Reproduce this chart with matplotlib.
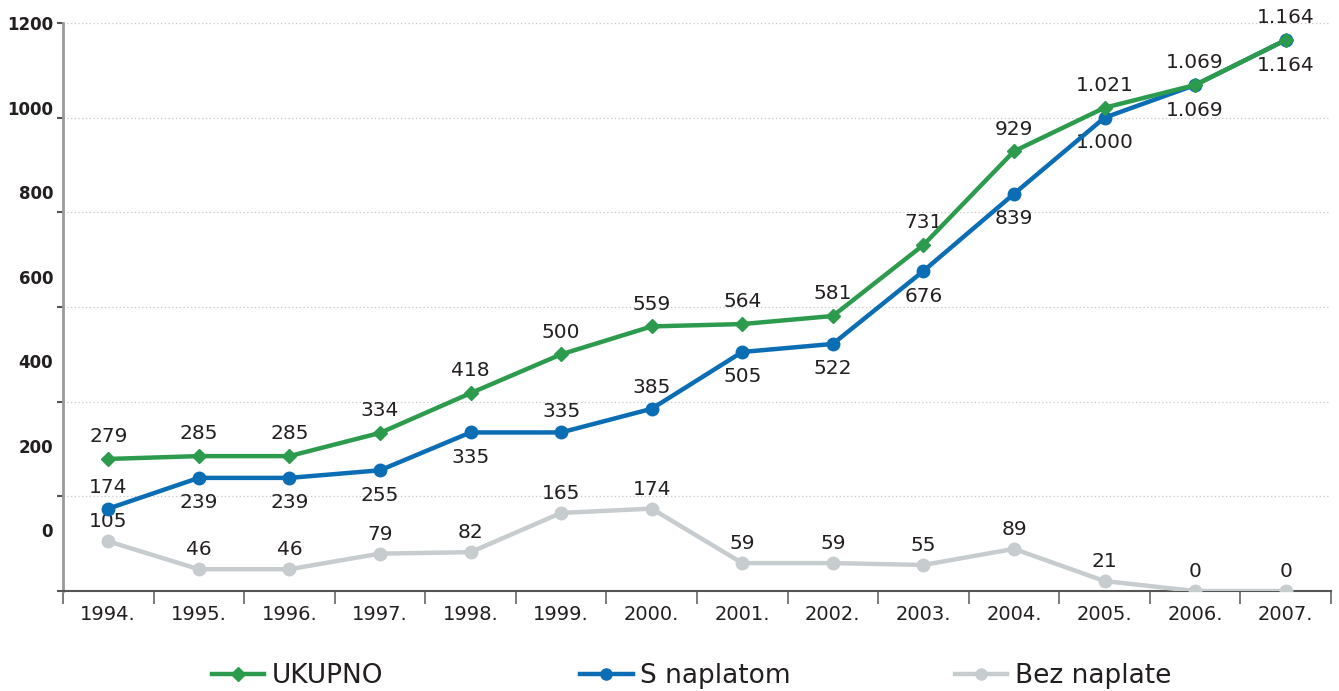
import numpy as np
import matplotlib
matplotlib.use('Agg')
import matplotlib.pyplot as plt
from matplotlib.lines import Line2D

years = ['1994.', '1995.', '1996.', '1997.', '1998.', '1999.', '2000.',
         '2001.', '2002.', '2003.', '2004.', '2005.', '2006.', '2007.']
ukupno = [279, 285, 285, 334, 418, 500, 559, 564, 581, 731, 929, 1021, 1069, 1164]
s_naplatom = [174, 239, 239, 255, 335, 335, 385, 505, 522, 676, 839, 1000, 1069, 1164]
bez_naplate = [105, 46, 46, 79, 82, 165, 174, 59, 59, 55, 89, 21, 0, 0]
# label above (1) or below (-1) the blue points
s_pos = [1, -1, -1, -1, -1, 1, 1, -1, -1, -1, -1, -1, -1, -1]
yticks = [0, 200, 400, 600, 800, 1000, 1200]

green = '#2c9b4e'
blue = '#0b6db3'
grey = '#c7cccf'
txt = '#231f20'

plt.rcParams['font.family'] = ['DejaVu Sans']

def fmt(v):
    return f'{v:,}'.replace(',', '.')

fig = plt.figure(figsize=(13.39, 6.91), dpi=100)
ax = fig.add_axes([0.047, 0.1447, 0.947, 0.822])
x = np.arange(len(years))

ax.plot(x, bez_naplate, color=grey, lw=3.2, marker='o', ms=9, zorder=3)
ax.plot(x, s_naplatom, color=blue, lw=3.2, marker='o', ms=9, zorder=4)
ax.plot(x, ukupno, color=green, lw=3.2, marker='D', ms=7.5, zorder=5)

for i in x:
    ax.annotate(fmt(ukupno[i]), (i, ukupno[i]), xytext=(0, 16), textcoords='offset points',
                ha='center', va='center', fontsize=14.5, color=txt)
    off = 15 if s_pos[i] > 0 else -18
    ax.annotate(fmt(s_naplatom[i]), (i, s_naplatom[i]), xytext=(0, off), textcoords='offset points',
                ha='center', va='center', fontsize=14.5, color=txt)
    ax.annotate(fmt(bez_naplate[i]), (i, bez_naplate[i]), xytext=(0, 14), textcoords='offset points',
                ha='center', va='center', fontsize=14.5, color=txt)

ax.set_xlim(-0.5, len(years) - 0.5)
ax.set_ylim(0, 1200)
ax.set_xticks(x)
ax.set_xticklabels(years, fontsize=14, color=txt)
ax.set_xticks(np.arange(len(years) + 1) - 0.5, minor=True)
ax.tick_params(axis='x', which='major', length=0, pad=10)
ax.tick_params(axis='x', which='minor', length=9, width=1.2, color='#666666', direction='out')
ax.set_yticks(yticks)
ax.tick_params(axis='y', length=4, width=1.5, color='#555555', labelleft=False)
for v in yticks[1:]:
    ax.axhline(v, color='#c8c8c8', lw=0.9, linestyle=(0, (1, 2)), zorder=1)

for s in ['top', 'right']:
    ax.spines[s].set_visible(False)
ax.spines['left'].set_color('#9a9a9a')
ax.spines['left'].set_linewidth(2)
ax.spines['bottom'].set_color('#555555')
ax.spines['bottom'].set_linewidth(1.5)

# the tick labels of the original sit on their own (squeezed) scale
ax2 = ax.twinx()
ax2.set_ylim(-144, 1200)
ax2.yaxis.tick_left()
ax2.set_yticks(yticks)
ax2.set_yticklabels([str(v) for v in yticks], fontsize=12, color=txt, fontweight='bold')
ax2.tick_params(axis='y', length=0, pad=7)
for s in ax2.spines.values():
    s.set_visible(False)

legend_items = [
    ('UKUPNO', green, 'D', 7, 0.158),
    ('S naplatom', blue, 'o', 8, 0.433),
    ('Bez naplate', grey, 'o', 8, 0.713),
]
for name, col, mk, size, lx in legend_items:
    h = Line2D([], [], color=col, lw=3.2, marker=mk, ms=size)
    fig.legend(handles=[h], labels=[name], loc='center left', bbox_to_anchor=(lx, 0.022),
               frameon=False, fontsize=19, handlelength=2.0, handletextpad=0.27,
               labelcolor=txt, borderaxespad=0, borderpad=0)

fig.savefig('out.png', dpi=100)
